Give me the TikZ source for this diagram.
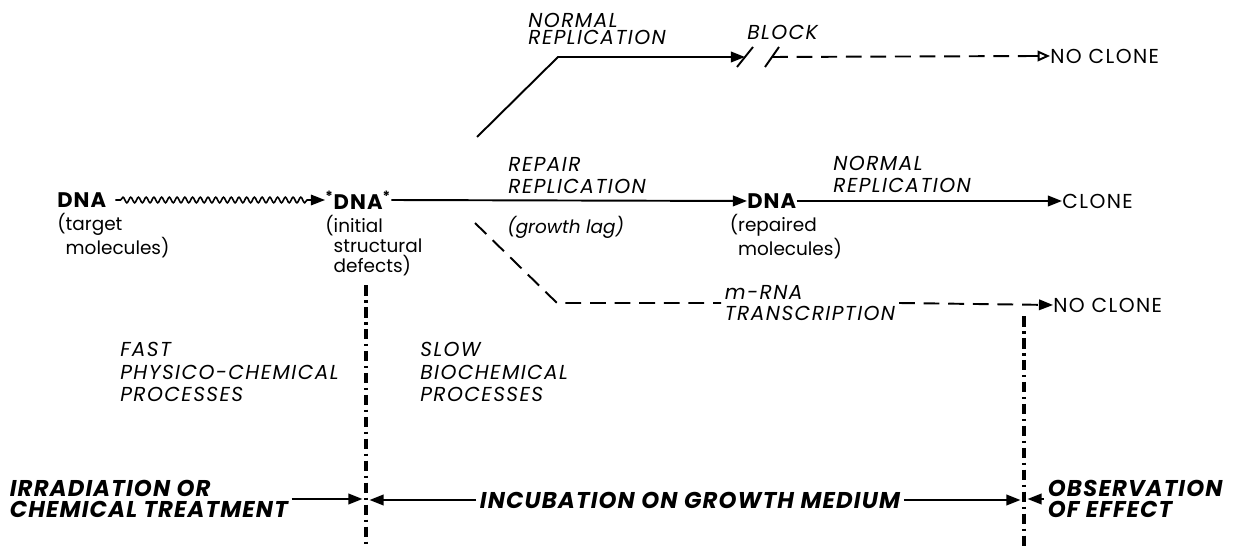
\documentclass[tikz,border=0pt]{standalone}
\usepackage{fontspec}
\setmainfont{Poppins}
\newfontfamily\capsfont{Poppins}[LetterSpace=7]
\newfontfamily\headfont{Poppins}[LetterSpace=5]
\usetikzlibrary{arrows.meta,decorations.pathmorphing,positioning}

\begin{document}
\begin{tikzpicture}[
    x=0.02cm, y=-0.02cm,
    every node/.style={inner sep=0pt, font=\fontsize{11}{13}\selectfont},
    txt/.style={anchor=west, align=left, font=\fontsize{11.5}{13}\selectfont\capsfont},
    dnatxt/.style={anchor=west, font=\fontsize{12}{13}\selectfont\headfont\bfseries},
    sub/.style={anchor=north west, align=left, font=\fontsize{10.5}{11.5}\selectfont},
    itl/.style={anchor=west, align=left, font=\fontsize{11.5}{12.5}\selectfont\capsfont\itshape},
    lowitl/.style={anchor=west, align=left, font=\fontsize{10.5}{11.5}\selectfont\itshape},
    bigitl/.style={anchor=west, align=left, inner sep=2pt, font=\fontsize{13}{11.5}\selectfont\headfont\bfseries\itshape},
    arrow/.style={-{Triangle[length=8pt, width=6pt]}, line width=1.1pt},
    openarrow/.style={-{Triangle[open, length=7pt, width=6pt]}, line width=1.1pt},
    dashline/.style={line width=1.1pt, dash pattern=on 9pt off 5pt},
    dashdot/.style={line width=1.8pt, dash pattern=on 6pt off 2.5pt on 1.5pt off 2.5pt},
    wavy/.style={-{Triangle[length=8pt, width=6pt]}, line width=0.9pt,
        decorate, decoration={snake, amplitude=1.6pt, segment length=4.4pt,
        pre length=3pt, post length=8pt}}
]
\useasboundingbox (0,0) rectangle (1247,547);

% ============ MAIN ROW ============
\node[dnatxt] (dnaA) at (57,200) {DNA};
\node[sub, below=3pt of dnaA.south west, anchor=north west] (target) {(target\\\hphantom{(}molecules)};

\node[dnatxt] (dnaB) at (325,200) {\textsuperscript{*}DNA\textsuperscript{*}};
\node[sub, below=3pt of dnaB.south west, anchor=north west] (initial) {(initial\\\hphantom{(}structural\\\hphantom{(}defects)};

\node[dnatxt] (dnaC) at (747,201) {DNA};
\node[sub, below=3pt of dnaC.south west, anchor=north west, xshift=-10pt] (repaired) {(repaired\\\hphantom{(}molecules)};

\node[txt] (clone) at (1062,201) {CLONE};

% labels along the main row
\node[itl] (repair) at (508,176) {REPAIR\\REPLICATION};
\node[lowitl] (lag) at (507,227) {(growth lag)};
\node[itl] (normB) at (833,174) {NORMAL\\REPLICATION};

% arrows
\draw[wavy] ([xshift=5pt]dnaA.east) -- (dnaB.west);
\draw[arrow] (dnaB.east) -- (dnaC.west);
\draw[arrow] (dnaC.east) -- (clone.west);

% ============ UPPER BRANCH (BLOCK) ============
\coordinate (brA) at (477,137);
\coordinate (brB) at (558,57);
\coordinate (blk1) at (745,57);
\coordinate (blk2) at (772,57);

\node[itl, font=\fontsize{11.5}{10}\selectfont\capsfont\itshape] (normA) at (528,29) {NORMAL\\REPLICATION};
\node[itl] (block) at (747,32) {BLOCK};
\node[txt] (nocloneA) at (1050,56) {NO CLONE};

\draw[arrow] (brA) -- (brB) -- (blk1);
\draw[line width=1.1pt] ([shift={(-8,10)}]blk1) -- ([shift={(8,-10)}]blk1);
\draw[line width=1.1pt] ([shift={(-7,10)}]blk2) -- ([shift={(7,-10)}]blk2);
\draw[dashline] (blk2) -- ([xshift=-8pt]nocloneA.west);
\draw[openarrow] ([xshift=-10pt]nocloneA.west) -- (nocloneA.west);

% ============ LOWER BRANCH (m-RNA) ============
\coordinate (brC) at (475,223);
\coordinate (brD) at (557,303);

\node[itl, inner sep=2pt] (mrna) at (721,303) {m-RNA\\TRANSCRIPTION};
\node[txt] (nocloneB) at (1053,305) {NO CLONE};

\draw[dashline] (brC) -- (brD) -- (mrna.west);
\draw[dashline, arrow] (mrna.east) -- (nocloneB.west);

% ============ TIME LINES ============
\coordinate (t1top) at (366,285);
\coordinate (t1bot) at (366,547);
\coordinate (t2top) at (1024,316);
\coordinate (t2bot) at (1024,547);
\draw[dashdot] (t1top) -- (t1bot);
\draw[dashdot] (t2top) -- (t2bot);

\node[itl, font=\fontsize{11.5}{13}\selectfont\capsfont\itshape] (fast) at (120,372) {FAST\\PHYSICO-CHEMICAL\\PROCESSES};
\node[itl, font=\fontsize{11.5}{13}\selectfont\capsfont\itshape] (slow) at (420,372) {SLOW\\BIOCHEMICAL\\PROCESSES};

% ============ PHASES ============
\node[bigitl] (irr) at (6,499) {IRRADIATION OR\\CHEMICAL TREATMENT};
\node[bigitl, anchor=center] (incub) at (690,500) {INCUBATION ON GROWTH MEDIUM};
\node[bigitl] (obs) at (1044,499) {OBSERVATION\\OF EFFECT};

\draw[arrow, shorten >=2pt] (irr.east) -- (t1top |- irr.east);
\draw[arrow, shorten >=2pt] (incub.west) -- (t1top |- incub.west);
\draw[arrow, shorten >=2pt] (incub.east) -- (t2top |- incub.east);
\draw[arrow, shorten >=2pt] (obs.west) -- (t2top |- obs.west);

\end{tikzpicture}
\end{document}
